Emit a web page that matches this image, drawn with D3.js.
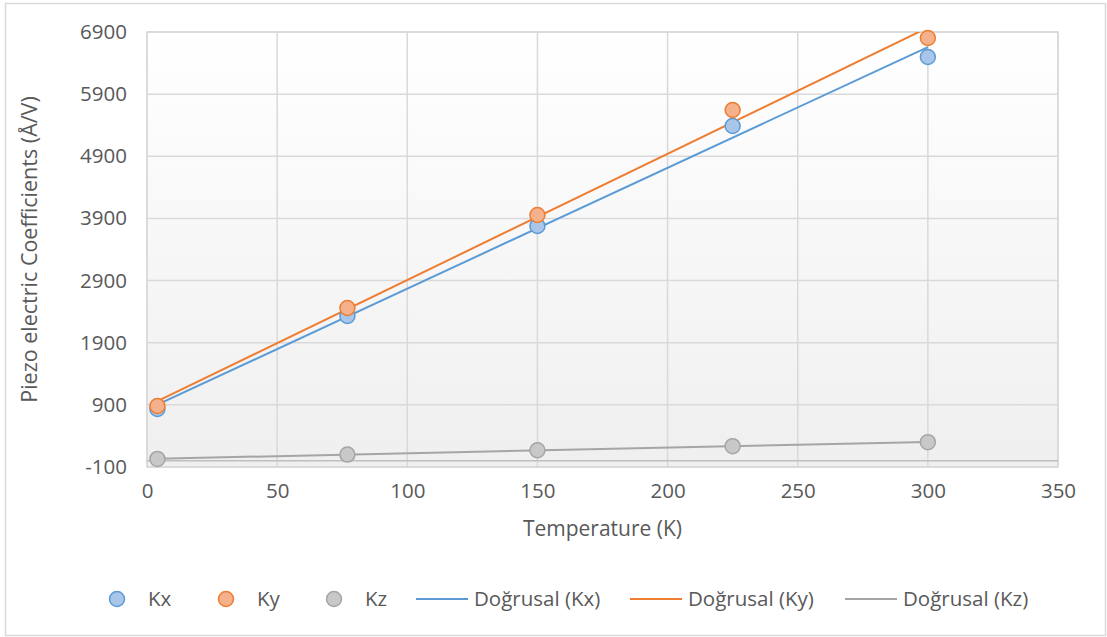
<!DOCTYPE html>
<html>
<head>
<meta charset="utf-8">
<script src="https://cdn.jsdelivr.net/npm/d3@7"></script>
<style>
  body { margin: 0; background: #fff; }
  text { font-family: "Open Sans", "Noto Sans", sans-serif; fill: #595959; }
</style>
</head>
<body>
<div id="chart-area"></div>
<script>
// data
var temps = [4, 77, 150, 225, 300];
var kx = [833, 2330, 3778, 5388, 6498];
var ky = [882, 2459, 3955, 5645, 6804];
var kz = [30, 100, 170, 235, 300];
var xTicks = [0, 50, 100, 150, 200, 250, 300, 350];
var yTicks = [-100, 900, 1900, 2900, 3900, 4900, 5900, 6900];
var seriesNames = ["Kx", "Ky", "Kz"];
var trendNames = ["Doğrusal (Kx)", "Doğrusal (Ky)", "Doğrusal (Kz)"];

var W = 1107, H = 637;
var margin = {top: 32, right: 49, bottom: 170, left: 147};
var width = 1058 - margin.left,
    height = 467 - margin.top;

var colors = [
  {line: "#5B9BD5", fill: "#A9C6EA"},
  {line: "#ED7D31", fill: "#F5B08C"},
  {line: "#A5A5A5", fill: "#C8C8C8"}
];

var svg = d3.select("#chart-area").append("svg")
  .attr("width", W).attr("height", H);

// outer chart border
svg.append("rect")
  .attr("x", 5.5).attr("y", 3.5)
  .attr("width", 1100).attr("height", 632)
  .attr("fill", "#fff").attr("stroke", "#D9D9D9").attr("stroke-width", 1.5);

var defs = svg.append("defs");
var grad = defs.append("linearGradient").attr("id", "plotbg")
  .attr("x1", 0).attr("y1", 0).attr("x2", 0).attr("y2", 1);
grad.append("stop").attr("offset", "0%").attr("stop-color", "#ffffff");
grad.append("stop").attr("offset", "100%").attr("stop-color", "#EFEFEF");
defs.append("clipPath").attr("id", "clip")
  .append("rect").attr("width", width).attr("height", height);

var g = svg.append("g")
  .attr("transform", "translate(" + margin.left + ", " + margin.top + ")");

var x = d3.scaleLinear().domain([0, 350]).range([0, width]);
var y = d3.scaleLinear().domain([-100, 6900]).range([height, 0]);

g.append("rect")
  .attr("width", width).attr("height", height)
  .attr("fill", "url(#plotbg)");

// gridlines
g.selectAll(".vgrid").data(xTicks).enter().append("line")
  .attr("class", "vgrid")
  .attr("x1", function(d){ return x(d); }).attr("x2", function(d){ return x(d); })
  .attr("y1", 0).attr("y2", height)
  .attr("stroke", "#D9D9D9").attr("stroke-width", 1.5);
g.selectAll(".hgrid").data(yTicks).enter().append("line")
  .attr("class", "hgrid")
  .attr("x1", 0).attr("x2", width)
  .attr("y1", function(d){ return y(d); }).attr("y2", function(d){ return y(d); })
  .attr("stroke", "#D9D9D9").attr("stroke-width", 1.5);

// plot border
g.append("rect")
  .attr("width", width).attr("height", height)
  .attr("fill", "none").attr("stroke", "#D9D9D9").attr("stroke-width", 1.5);

// horizontal axis line at y = 0
g.append("line")
  .attr("x1", 0).attr("x2", width)
  .attr("y1", y(0)).attr("y2", y(0))
  .attr("stroke", "#BFBFBF").attr("stroke-width", 1.5);

// axes (labels only)
var xAxis = g.append("g")
  .attr("transform", "translate(0, " + height + ")")
  .call(d3.axisBottom(x).tickValues(xTicks).tickSize(0).tickPadding(16));
var yAxis = g.append("g")
  .call(d3.axisLeft(y).tickValues(yTicks).tickSize(0).tickPadding(20).tickFormat(function(d){ return String(d); }));
[xAxis, yAxis].forEach(function(a) {
  a.select(".domain").remove();
  a.selectAll("text").attr("font-size", "20.5px")
    .style("font-family", "'Open Sans', sans-serif").attr("fill", "#595959");
});

// trendlines (least squares)
function fit(xs, ys) {
  var mx = d3.mean(xs), my = d3.mean(ys);
  var sxy = d3.sum(xs, function(v, i){ return (v - mx) * (ys[i] - my); });
  var sxx = d3.sum(xs, function(v){ return (v - mx) * (v - mx); });
  var b = sxy / sxx;
  return {a: my - b * mx, b: b};
}
var series = [kx, ky, kz];
var plot = g.append("g").attr("clip-path", "url(#clip)");
series.forEach(function(vals, i) {
  var f = fit(temps, vals);
  var x0 = d3.min(temps), x1 = d3.max(temps);
  plot.append("line")
    .attr("x1", x(x0)).attr("y1", y(f.a + f.b * x0))
    .attr("x2", x(x1)).attr("y2", y(f.a + f.b * x1))
    .attr("stroke", colors[i].line).attr("stroke-width", 2);
});

// markers
series.forEach(function(vals, i) {
  g.selectAll(".pt" + i).data(vals).enter().append("circle")
    .attr("class", "pt" + i)
    .attr("cx", function(d, j){ return x(temps[j]); })
    .attr("cy", function(d){ return y(d); })
    .attr("r", 7.5)
    .attr("fill", colors[i].fill)
    .attr("stroke", colors[i].line).attr("stroke-width", 1.5);
});

// axis titles
g.append("text")
  .attr("x", width / 2).attr("y", height + 69)
  .attr("text-anchor", "middle").attr("font-size", "21px")
  .text("Temperature (K)");
g.append("text")
  .attr("transform", "rotate(-90)")
  .attr("x", -height / 2).attr("y", -110)
  .attr("text-anchor", "middle").attr("font-size", "21.5px")
  .text("Piezo electric Coefficients (Å/V)");

// legend
var legY = 599;
var markerX = [117, 226, 334];
var lineX = [416, 630, 845];
var leg = svg.append("g");
seriesNames.forEach(function(n, i) {
  leg.append("circle").attr("cx", markerX[i]).attr("cy", legY).attr("r", 7.5)
    .attr("fill", colors[i].fill).attr("stroke", colors[i].line).attr("stroke-width", 1.5);
  leg.append("text").attr("x", markerX[i] + 31).attr("y", legY).attr("dy", "0.35em")
    .attr("font-size", "20.5px").text(n);
});
trendNames.forEach(function(n, i) {
  leg.append("line").attr("x1", lineX[i]).attr("x2", lineX[i] + 52)
    .attr("y1", legY).attr("y2", legY)
    .attr("stroke", colors[i].line).attr("stroke-width", 2);
  leg.append("text").attr("x", lineX[i] + 58).attr("y", legY).attr("dy", "0.35em")
    .attr("font-size", "20.5px").text(n);
});
</script>
</body>
</html>
